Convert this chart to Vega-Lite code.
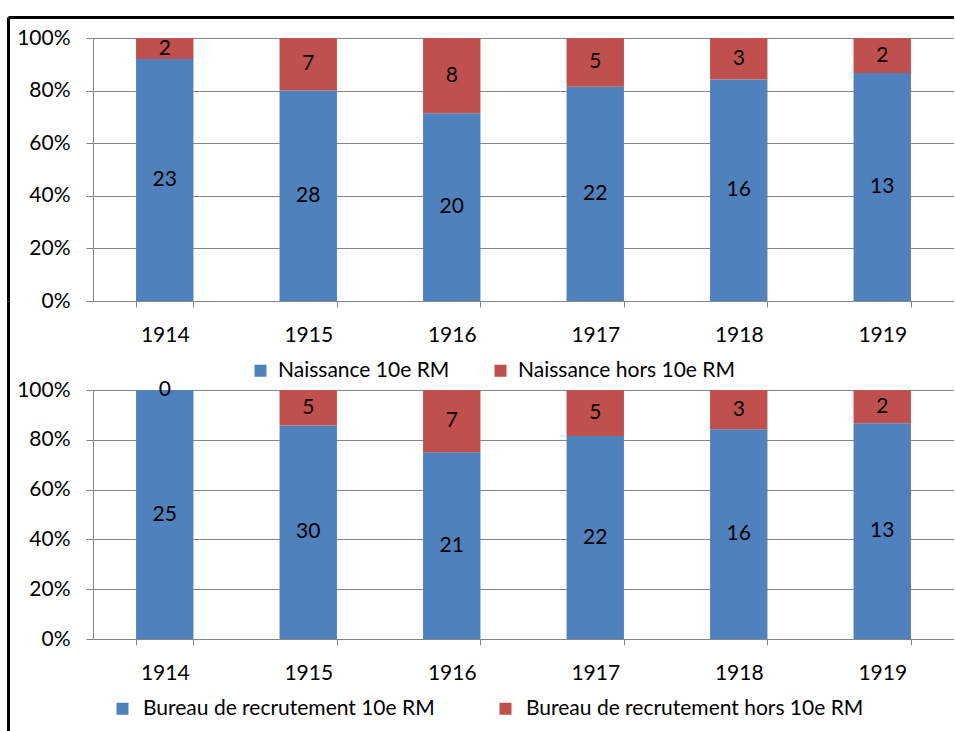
{
  "$schema": "https://vega.github.io/schema/vega-lite/v6.json",
  "background": "white",
  "padding": {"left": 8, "top": 17, "right": 0, "bottom": 0},
  "config": {
    "font": "Lato",
    "view": {"stroke": null},
    "axis": {"labelFont": "Lato", "labelFontSize": 21, "labelColor": "#000000", "domainColor": "#868686", "tickColor": "#868686", "gridColor": "#868686", "title": null}
  },
  "datasets": {
    "naissance": [
      {"year": "1914", "series": "Naissance 10e RM", "n": 23},
      {"year": "1914", "series": "Naissance hors 10e RM", "n": 2},
      {"year": "1915", "series": "Naissance 10e RM", "n": 28},
      {"year": "1915", "series": "Naissance hors 10e RM", "n": 7},
      {"year": "1916", "series": "Naissance 10e RM", "n": 20},
      {"year": "1916", "series": "Naissance hors 10e RM", "n": 8},
      {"year": "1917", "series": "Naissance 10e RM", "n": 22},
      {"year": "1917", "series": "Naissance hors 10e RM", "n": 5},
      {"year": "1918", "series": "Naissance 10e RM", "n": 16},
      {"year": "1918", "series": "Naissance hors 10e RM", "n": 3},
      {"year": "1919", "series": "Naissance 10e RM", "n": 13},
      {"year": "1919", "series": "Naissance hors 10e RM", "n": 2}
    ],
    "bureau": [
      {"year": "1914", "series": "Bureau de recrutement 10e RM", "n": 25},
      {"year": "1914", "series": "Bureau de recrutement hors 10e RM", "n": 0},
      {"year": "1915", "series": "Bureau de recrutement 10e RM", "n": 30},
      {"year": "1915", "series": "Bureau de recrutement hors 10e RM", "n": 5},
      {"year": "1916", "series": "Bureau de recrutement 10e RM", "n": 21},
      {"year": "1916", "series": "Bureau de recrutement hors 10e RM", "n": 7},
      {"year": "1917", "series": "Bureau de recrutement 10e RM", "n": 22},
      {"year": "1917", "series": "Bureau de recrutement hors 10e RM", "n": 5},
      {"year": "1918", "series": "Bureau de recrutement 10e RM", "n": 16},
      {"year": "1918", "series": "Bureau de recrutement hors 10e RM", "n": 3},
      {"year": "1919", "series": "Bureau de recrutement 10e RM", "n": 13},
      {"year": "1919", "series": "Bureau de recrutement hors 10e RM", "n": 2}
    ]
  },
  "bounds": "flush",
  "spacing": 89,
  "resolve": {"scale": {"color": "independent"}, "legend": {"color": "independent"}},
  "vconcat": [
    {
      "width": 861,
      "height": 263,
      "data": {"name": "naissance"},
      "transform": [
        {"stack": "n", "groupby": ["year"], "sort": [{"field": "series", "order": "ascending"}], "offset": "normalize", "as": ["y0", "y1"]},
        {"calculate": "(datum.y0 + datum.y1) / 2", "as": "ymid"}
      ],
      "resolve": {"axis": {"y": "independent", "x": "independent"}},
      "layer": [
        {
          "mark": {"type": "bar"},
          "encoding": {
            "x": {"field": "year", "type": "nominal", "scale": {"paddingInner": 0.6, "paddingOuter": 0.3},
                  "axis": {"labelAngle": 0, "tickBand": "extent", "tickSize": 6, "labelPadding": 17, "grid": false}},
            "y": {"field": "y1", "type": "quantitative", "scale": {"domain": [0, 1]},
                  "axis": {"format": ".0%", "values": [0, 0.2, 0.4, 0.6, 0.8, 1], "tickSize": 7, "labelPadding": 16, "grid": true}},
            "y2": {"field": "y0"},
            "color": {"field": "series", "type": "nominal",
                      "scale": {"domain": ["Naissance 10e RM", "Naissance hors 10e RM"], "range": ["#4F81BD", "#C0504D"]},
                      "legend": {"orient": "none", "legendX": 157, "legendY": 322, "direction": "horizontal", "columns": 2, "columnPadding": 40, "labelLimit": 0,
                                 "symbolType": "square", "symbolSize": 144, "symbolStrokeWidth": 0, "labelFontSize": 21, "labelFont": "Lato", "labelColor": "#000000", "labelOffset": 7, "title": null}}
          }
        },
        {
          "mark": {"type": "text", "fontSize": 21, "color": "#000000", "baseline": "middle"},
          "encoding": {
            "x": {"field": "year", "type": "nominal",
                  "axis": {"orient": "top", "offset": 21, "labels": false, "ticks": false, "grid": false, "domainColor": "#000000", "domainWidth": 3}},
            "y": {"field": "ymid", "type": "quantitative",
                  "axis": {"orient": "left", "offset": 85, "labels": false, "ticks": false, "grid": false, "domainColor": "#000000", "domainWidth": 3}},
            "text": {"field": "n", "type": "quantitative"}
          }
        },
        {
          "mark": {"type": "text", "fontSize": 21, "opacity": 0},
          "encoding": {
            "x": {"field": "year", "type": "nominal",
                  "axis": {"orient": "top", "offset": 21, "position": -85, "labels": false, "ticks": false, "grid": false, "domainColor": "#000000", "domainWidth": 3}},
            "y": {"field": "ymid", "type": "quantitative",
                  "axis": {"orient": "left", "offset": 85, "position": -21, "labels": false, "ticks": false, "grid": false, "domainColor": "#000000", "domainWidth": 3}},
            "text": {"field": "n", "type": "quantitative"}
          }
        }
      ]
    },
    {
      "width": 861,
      "height": 249,
      "data": {"name": "bureau"},
      "transform": [
        {"stack": "n", "groupby": ["year"], "sort": [{"field": "series", "order": "ascending"}], "offset": "normalize", "as": ["y0", "y1"]},
        {"calculate": "(datum.y0 + datum.y1) / 2", "as": "ymid"}
      ],
      "resolve": {"axis": {"y": "independent"}},
      "encoding": {
        "x": {"field": "year", "type": "nominal", "scale": {"paddingInner": 0.6, "paddingOuter": 0.3},
              "axis": {"labelAngle": 0, "tickBand": "extent", "tickSize": 6, "labelPadding": 17, "grid": false}}
      },
      "layer": [
        {
          "mark": {"type": "bar"},
          "encoding": {
            "y": {"field": "y1", "type": "quantitative", "scale": {"domain": [0, 1]},
                  "axis": {"format": ".0%", "values": [0, 0.2, 0.4, 0.6, 0.8, 1], "tickSize": 7, "labelPadding": 16, "grid": true}},
            "y2": {"field": "y0"},
            "color": {"field": "series", "type": "nominal",
                      "scale": {"domain": ["Bureau de recrutement 10e RM", "Bureau de recrutement hors 10e RM"], "range": ["#4F81BD", "#C0504D"]},
                      "legend": {"orient": "none", "legendX": 19, "legendY": 308, "direction": "horizontal", "columns": 2, "columnPadding": 60, "labelLimit": 0,
                                 "symbolType": "square", "symbolSize": 144, "symbolStrokeWidth": 0, "labelFontSize": 21, "labelFont": "Lato", "labelColor": "#000000", "labelOffset": 10, "title": null}}
          }
        },
        {
          "mark": {"type": "text", "fontSize": 21, "color": "#000000", "baseline": "middle"},
          "encoding": {
            "y": {"field": "ymid", "type": "quantitative",
                  "axis": {"orient": "left", "offset": 85, "labels": false, "ticks": false, "grid": false, "domainColor": "#000000", "domainWidth": 3}},
            "text": {"field": "n", "type": "quantitative"}
          }
        },
        {
          "mark": {"type": "text", "fontSize": 21, "opacity": 0},
          "encoding": {
            "y": {"field": "ymid", "type": "quantitative",
                  "axis": {"orient": "left", "offset": 85, "position": -89, "labels": false, "ticks": false, "grid": false, "domainColor": "#000000", "domainWidth": 3}},
            "text": {"field": "n", "type": "quantitative"}
          }
        },
        {
          "mark": {"type": "text", "fontSize": 21, "opacity": 0},
          "encoding": {
            "y": {"field": "ymid", "type": "quantitative",
                  "axis": {"orient": "left", "offset": 85, "position": 92, "labels": false, "ticks": false, "grid": false, "domainColor": "#000000", "domainWidth": 3}},
            "text": {"field": "n", "type": "quantitative"}
          }
        }
      ]
    }
  ]
}
